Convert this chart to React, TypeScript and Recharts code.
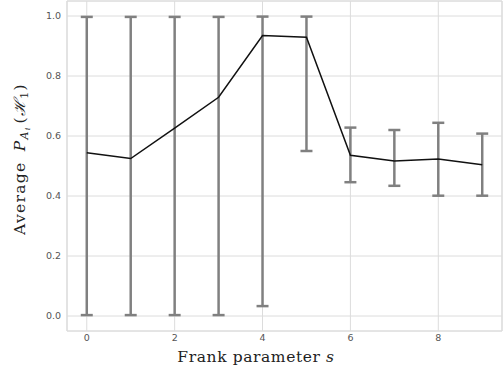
import { LineChart, Line, XAxis, YAxis, CartesianGrid, ErrorBar, ReferenceLine } from 'recharts';

const franks = [0, 1, 2, 3, 4, 5, 6, 7, 8, 9];
const means = [0.544, 0.525, 0.626, 0.729, 0.935, 0.929, 0.536, 0.517, 0.523, 0.504];
const lowers = [0.003, 0.003, 0.003, 0.003, 0.033, 0.55, 0.446, 0.434, 0.401, 0.401];
const uppers = [0.997, 0.997, 0.997, 0.997, 0.998, 0.998, 0.628, 0.62, 0.644, 0.608];
const xTicks = [0, 2, 4, 6, 8];
const yTicks = [0, 0.2, 0.4, 0.6, 0.8, 1.0];

const data = franks.map((s, i) => ({
  s,
  mean: means[i],
  err: [means[i] - lowers[i], uppers[i] - means[i]],
}));

const gridColor = '#dcdcdc';
const tickStyle = { fill: '#555', fontSize: 9.5, fontFamily: 'DejaVu Sans' };
const labelFont = 'DejaVu Serif';

function YLabel() {
  return (
    <text
      transform="translate(25, 159) rotate(-90)"
      textAnchor="middle"
      fontFamily={labelFont}
      fontSize={15.5}
      letterSpacing={1.3}
      fill="#222"
    >
      Average{' '}
      <tspan fontStyle="italic" dx={4}>P</tspan>
      <tspan fontSize={11} dy={3} fontStyle="italic">A</tspan>
      <tspan fontSize={8} dy={2} fontStyle="italic">i</tspan>
      <tspan dy={-5} dx={3}>(</tspan>
      <tspan fontStyle="italic">ℋ</tspan>
      <tspan fontSize={11} dy={3}>1</tspan>
      <tspan dy={-3}>)</tspan>
    </text>
  );
}

export default function App() {
  return (
    <div style={{ position: 'absolute', left: 0, top: 0, width: 504, height: 371, background: '#fff' }}>
      <LineChart
        width={504}
        height={371}
        data={data}
        margin={{ top: 1, right: 2, bottom: 0, left: 0 }}
      >
        <CartesianGrid stroke={gridColor} strokeWidth={1} />
        <XAxis
          dataKey="s"
          type="number"
          domain={[-0.45, 9.45]}
          ticks={xTicks}
          height={40}
          tickLine={false}
          tickSize={3}
          tickMargin={0}
          axisLine={{ stroke: gridColor, strokeWidth: 1.2 }}
          tick={tickStyle}
          label={{
            value: 'Frank parameter s',
            position: 'insideBottom',
            content: () => (
              <text
                x={256}
                y={362}
                textAnchor="middle"
                fontFamily={labelFont}
                fontSize={15.5}
                letterSpacing={0.6}
                fill="#222"
              >
                Frank parameter <tspan fontStyle="italic">s</tspan>
              </text>
            ),
          }}
        />
        <YAxis
          type="number"
          domain={[-0.05, 1.05]}
          ticks={yTicks}
          width={67}
          tickLine={false}
          tickSize={6}
          tickMargin={0}
          axisLine={{ stroke: gridColor, strokeWidth: 1.2 }}
          tick={tickStyle}
          tickFormatter={(v: number) => v.toFixed(1)}
          label={{ value: 'Average', content: () => <YLabel /> }}
        />
        <ReferenceLine y={1.05} stroke={gridColor} strokeWidth={1.2} />
        <ReferenceLine x={9.45} stroke={gridColor} strokeWidth={1.2} />
        <Line
          dataKey="mean"
          type="linear"
          stroke="#111"
          strokeWidth={1.5}
          dot={false}
          activeDot={false}
          isAnimationActive={false}
        >
          <ErrorBar dataKey="err" direction="y" stroke="#808080" strokeWidth={2.5} width={6} isAnimationActive={false} />
        </Line>
      </LineChart>
    </div>
  );
}
